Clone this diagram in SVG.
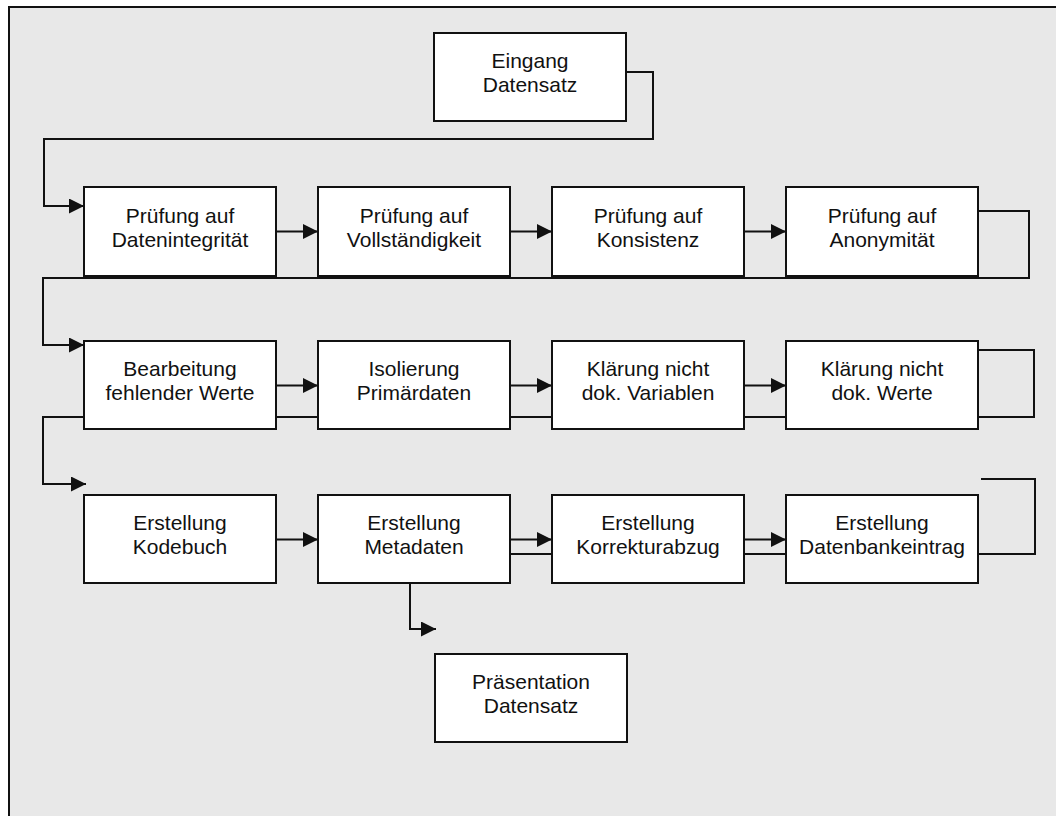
<svg xmlns="http://www.w3.org/2000/svg" width="1056" height="816" viewBox="0 0 1056 816">
  <style>
    .box { fill: #ffffff; stroke: #111111; stroke-width: 2; }
    .lbl { font-family: "Liberation Sans", Arial, sans-serif; font-size: 21px; fill: #111111; text-anchor: middle; }
    .conn { fill: none; stroke: #111111; stroke-width: 2; }
  </style>
  <defs>
    <marker id="arrow" markerUnits="userSpaceOnUse" markerWidth="16" markerHeight="16" refX="15" refY="7.5" orient="auto">
      <path d="M0,0 L15,7.5 L0,15 z" fill="#111111"/>
    </marker>
  </defs>
  <rect x="0" y="0" width="1056" height="816" fill="#ffffff"/>
  <rect x="9" y="7" width="1100" height="900" fill="#e8e8e8" stroke="#111111" stroke-width="2"/>

  <g id="connectors">
    <path class="conn" d="M626,72 H653 V139 H44 V206 H84" marker-end="url(#arrow)"/>
    <path class="conn" d="M276,231.5 H318" marker-end="url(#arrow)"/>
    <path class="conn" d="M510,231.5 H552" marker-end="url(#arrow)"/>
    <path class="conn" d="M744,231.5 H786" marker-end="url(#arrow)"/>
    <path class="conn" d="M978,211 H1029 V278 H43 V345 H84" marker-end="url(#arrow)"/>
    <path class="conn" d="M276,385.5 H318" marker-end="url(#arrow)"/>
    <path class="conn" d="M510,385.5 H552" marker-end="url(#arrow)"/>
    <path class="conn" d="M744,385.5 H786" marker-end="url(#arrow)"/>
    <path class="conn" d="M978,350 H1034 V417 H43 V484 H86" marker-end="url(#arrow)"/>
    <path class="conn" d="M276,539.5 H318" marker-end="url(#arrow)"/>
    <path class="conn" d="M510,539.5 H552" marker-end="url(#arrow)"/>
    <path class="conn" d="M744,539.5 H786" marker-end="url(#arrow)"/>
    <path class="conn" d="M981,479 H1035 V554 H510"/>
    <path class="conn" d="M410,583 V629 H436" marker-end="url(#arrow)"/>
  </g>

  <g id="n_eingang">
    <rect class="box" x="434" y="33" width="192" height="88"/>
    <text class="lbl" x="530" y="68">Eingang</text>
    <text class="lbl" x="530" y="92">Datensatz</text>
  </g>

  <g id="n_integritaet">
    <rect class="box" x="84" y="187" width="192" height="89"/>
    <text class="lbl" x="180" y="222.5">Prüfung auf</text>
    <text class="lbl" x="180" y="246.5">Datenintegrität</text>
  </g>
  <g id="n_vollstaendigkeit">
    <rect class="box" x="318" y="187" width="192" height="89"/>
    <text class="lbl" x="414" y="222.5">Prüfung auf</text>
    <text class="lbl" x="414" y="246.5">Vollständigkeit</text>
  </g>
  <g id="n_konsistenz">
    <rect class="box" x="552" y="187" width="192" height="89"/>
    <text class="lbl" x="648" y="222.5">Prüfung auf</text>
    <text class="lbl" x="648" y="246.5">Konsistenz</text>
  </g>
  <g id="n_anonymitaet">
    <rect class="box" x="786" y="187" width="192" height="89"/>
    <text class="lbl" x="882" y="222.5">Prüfung auf</text>
    <text class="lbl" x="882" y="246.5">Anonymität</text>
  </g>

  <g id="n_fehlende">
    <rect class="box" x="84" y="341" width="192" height="88"/>
    <text class="lbl" x="180" y="376">Bearbeitung</text>
    <text class="lbl" x="180" y="400">fehlender Werte</text>
  </g>
  <g id="n_primaer">
    <rect class="box" x="318" y="341" width="192" height="88"/>
    <text class="lbl" x="414" y="376">Isolierung</text>
    <text class="lbl" x="414" y="400">Primärdaten</text>
  </g>
  <g id="n_variablen">
    <rect class="box" x="552" y="341" width="192" height="88"/>
    <text class="lbl" x="648" y="376">Klärung nicht</text>
    <text class="lbl" x="648" y="400">dok. Variablen</text>
  </g>
  <g id="n_werte">
    <rect class="box" x="786" y="341" width="192" height="88"/>
    <text class="lbl" x="882" y="376">Klärung nicht</text>
    <text class="lbl" x="882" y="400">dok. Werte</text>
  </g>

  <g id="n_kodebuch">
    <rect class="box" x="84" y="495" width="192" height="88"/>
    <text class="lbl" x="180" y="530">Erstellung</text>
    <text class="lbl" x="180" y="554">Kodebuch</text>
  </g>
  <g id="n_metadaten">
    <rect class="box" x="318" y="495" width="192" height="88"/>
    <text class="lbl" x="414" y="530">Erstellung</text>
    <text class="lbl" x="414" y="554">Metadaten</text>
  </g>
  <g id="n_korrektur">
    <rect class="box" x="552" y="495" width="192" height="88"/>
    <text class="lbl" x="648" y="530">Erstellung</text>
    <text class="lbl" x="648" y="554">Korrekturabzug</text>
  </g>
  <g id="n_datenbank">
    <rect class="box" x="786" y="495" width="192" height="88"/>
    <text class="lbl" x="882" y="530">Erstellung</text>
    <text class="lbl" x="882" y="554">Datenbankeintrag</text>
  </g>

  <g id="n_praesentation">
    <rect class="box" x="435" y="654" width="192" height="88"/>
    <text class="lbl" x="531" y="689">Präsentation</text>
    <text class="lbl" x="531" y="713">Datensatz</text>
  </g>
</svg>
